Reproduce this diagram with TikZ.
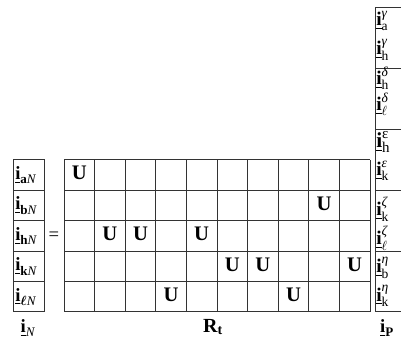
\documentclass[tikz,border=0pt]{standalone}
\usepackage{fontspec}
\usepackage{amsmath}
\setmainfont{Liberation Serif}
% underlined bold current vector
\newcommand\cvec{\underline{\textbf{i}}}
\newcommand\gsup[1]{\text{\itshape #1}}
\begin{document}
\begin{tikzpicture}[x=0.75pt,y=-0.75pt,
  gridline/.style={draw=black!80, line width=0.75pt},
  ucell/.style={font=\fontsize{15.5}{18}\selectfont\bfseries, inner sep=0pt},
  lbl/.style={font=\fontsize{14}{16}\selectfont, inner sep=0pt},
  rlbl/.style={font=\fontsize{14.5}{17}\selectfont, inner sep=0pt, anchor=west}]
\useasboundingbox (0,0) rectangle (401,342);

% left column vector
\draw[gridline] (13,160) rectangle (44,312);
\foreach \k in {1,...,4}
  \draw[gridline] (13,{160+30.4*\k}) -- (44,{160+30.4*\k});
\node[lbl, anchor=west] (la) at (15,175.2) {$\cvec_{\textbf{a}\mathit{N}}$};
\node[lbl, anchor=west] (lb) at (15,205.6) {$\cvec_{\textbf{b}\mathit{N}}$};
\node[lbl, anchor=west] (lh) at (15,236.0) {$\cvec_{\textbf{h}\mathit{N}}$};
\node[lbl, anchor=west] (lk) at (15,266.4) {$\cvec_{\textbf{k}\mathit{N}}$};
\node[lbl, anchor=west] (ll) at (15,296.8) {$\cvec_{\boldsymbol{\ell}\mathit{N}}$};
\node[lbl] (iN) at (28,328) {$\cvec_{\mathit{N}}$};

% equals sign
\node[lbl] (eq) at (54,236) {=};

% matrix grid
\foreach \j in {0,...,10}
  \draw[gridline] ({64+30.6*\j},160) -- ({64+30.6*\j},312);
\foreach \k in {0,...,5}
  \draw[gridline] (64,{160+30.4*\k}) -- (370,{160+30.4*\k});

% nonzero entries
\foreach \r/\c [count=\n] in {1/1,2/9,3/2,3/3,3/5,4/6,4/7,4/10,5/4,5/8}
  \node[ucell] (u\n) at ({64+30.6*(\c-0.5)},{160+30.4*(\r-0.5)-2}) {U};

\node[lbl, font=\fontsize{15}{17}\selectfont\bfseries] (Rt) at (213,327) {R\textsubscript{t}};

% right column vector
\draw[gridline] (375,8) -- (375,312);
\foreach \k in {0,...,5}
  \draw[gridline] (375,{8+60.8*\k}) -- (401,{8+60.8*\k});
\node[rlbl] (g1) at (376,21) {$\cvec^{\gsup{γ}}_{\text{a}}$};
\node[rlbl] (g2) at (376,50) {$\cvec^{\gsup{γ}}_{\text{h}}$};
\node[rlbl] (d1) at (376,78) {$\cvec^{\gsup{δ}}_{\text{h}}$};
\node[rlbl] (d2) at (376,104) {$\cvec^{\gsup{δ}}_{\ell}$};
\node[rlbl, font=\fontsize{16}{18}\selectfont] (e1) at (376,142) {$\cvec^{\text{ε}}_{\text{h}}$};
\node[rlbl] (e2) at (376,171) {$\cvec^{\gsup{ε}}_{\text{k}}$};
\node[rlbl] (z1) at (376,209) {$\cvec^{\gsup{ζ}}_{\text{k}}$};
\node[rlbl] (z2) at (376,238) {$\cvec^{\gsup{ζ}}_{\ell}$};
\node[rlbl] (h1) at (376,268) {$\cvec^{\gsup{η}}_{\text{b}}$};
\node[rlbl] (h2) at (376,296) {$\cvec^{\gsup{η}}_{\text{k}}$};
\node[lbl] (iP) at (387,328) {$\cvec_{\textbf{P}}$};
\end{tikzpicture}
\end{document}
